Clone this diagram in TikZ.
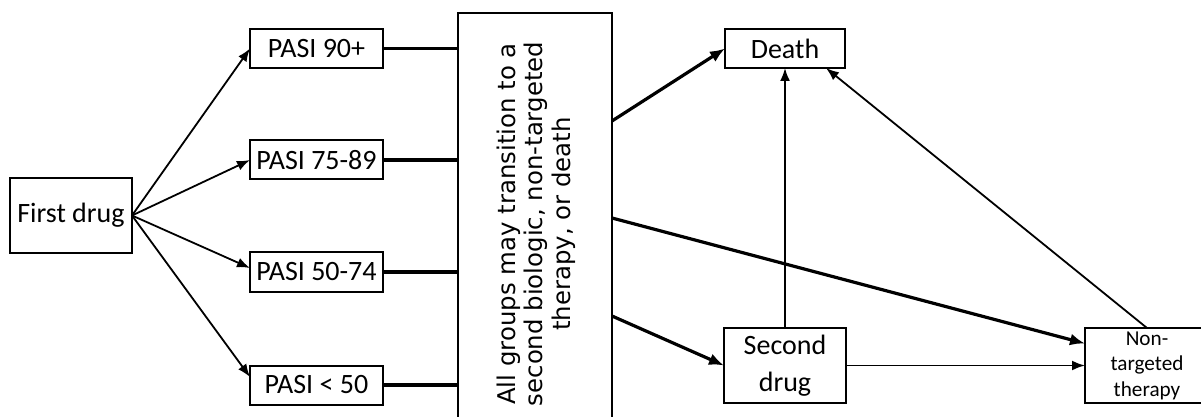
\documentclass[tikz,border=0pt]{standalone}
\usepackage{fontspec}
\setmainfont{Carlito}
\newfontfamily\groupfont{DejaVu Sans}
\usetikzlibrary{arrows.meta}

\begin{document}
\begin{tikzpicture}[x=0.5pt, y=-0.5pt,
    box/.style={draw, line width=1pt, inner sep=0pt, outer sep=0pt, align=center,
      font=\fontsize{14}{16}\selectfont},
    move/.style={line width=0.9pt, -{Latex[length=6.5pt, width=5pt]}},
    link/.style={line width=1.6pt},
    bigmove/.style={line width=1.6pt, -{Latex[length=7.5pt, width=6pt]}}]
      \useasboundingbox (0, 0) rectangle (1201, 417);

      % first line treatment and response groups
      \node [box, minimum width=61pt, minimum height=37.5pt] (first) at (71, 215.5) {First drug};
      \node [box, minimum width=66.5pt, minimum height=19.5pt] (p90) at (316.5, 48.5) {PASI 90+};
      \node [box, minimum width=66.5pt, minimum height=19.5pt] (p7589) at (316.5, 160) {PASI 75-89};
      \node [box, minimum width=66.5pt, minimum height=19.5pt] (p5074) at (316.5, 272) {PASI 50-74};
      \node [box, minimum width=66.5pt, minimum height=19.5pt] (p50) at (316.5, 385) {PASI < 50};

      \node [box, minimum width=77pt, minimum height=204.5pt] (all) at (535, 217.5) {};
      \node [rotate=90, align=center, font=\groupfont\fontsize{12.2}{13.7}\selectfont] (alltext) at (536, 224)
        {All groups may transition to a\\second biologic, non-targeted\\therapy, or death};

      % later states
      \node [box, minimum width=60pt, minimum height=19.5pt] (death) at (785, 48.5) {Death};
      \node [box, minimum width=61pt, minimum height=37.5pt, font=\fontsize{14}{18.5}\selectfont] (second) at (785, 365.5) {Second\\drug};
      \node [box, minimum width=62pt, minimum height=37.5pt, font=\fontsize{10.6}{12.75}\selectfont] (nt) at (1147, 365.5) {Non-\\targeted\\therapy};

      \draw [move] (first.east) -- (p90.west);
      \draw [move] (first.east) -- (p7589.west);
      \draw [move] (first.east) -- ([yshift=2pt]p5074.west);
      \draw [move] (first.east) -- ([yshift=4pt]p50.west);
      \foreach \p in {p90, p7589, p5074, p50}
        \draw [link] (\p.east) -- (\p.east -| all.west);

      \coordinate (exit1) at (612, 121);
      \coordinate (exit2) at (612, 218);
      \coordinate (exit3) at (612, 316);
      \draw [bigmove] (exit1) -- (death.west);
      \draw [bigmove] (exit2) -- ([yshift=11pt]nt.west);
      \draw [bigmove] (exit3) -- (second.west);

      \draw [move] (second.north) -- (death.south);
      \draw [move] (second.east) -- (second.east -| nt.west);
      \draw [move] (nt.north) -- ([xshift=-9.5pt]death.south east);
    \end{tikzpicture}
\end{document}
